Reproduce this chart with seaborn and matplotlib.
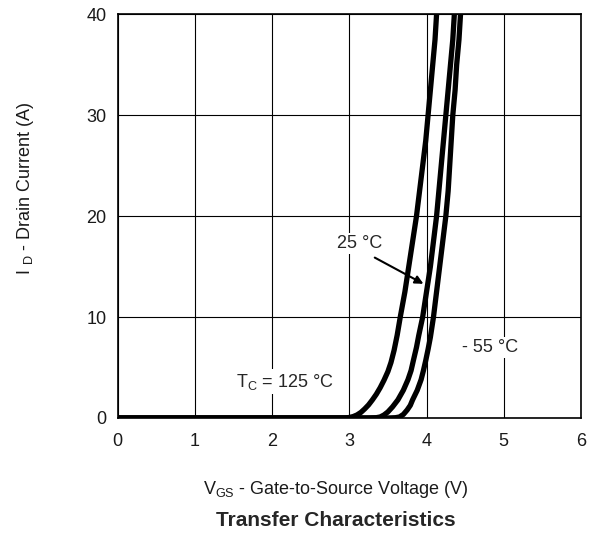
import numpy as np
import pandas as pd
import matplotlib
matplotlib.use("Agg")
import matplotlib.pyplot as plt
import seaborn as sns

# Data (V_GS in volts, I_D in amperes)
v_125 = [0.0, 2.8, 2.95, 3.0, 3.05, 3.1, 3.15, 3.2, 3.25, 3.3, 3.35, 3.4, 3.45, 3.5, 3.54, 3.58,
         3.62, 3.66, 3.72, 3.77, 3.82, 3.87, 3.91, 3.95, 3.99, 4.02, 4.05, 4.08, 4.11, 4.13, 4.16]
i_125 = [0.0, 0.0, 0.0, 0.05, 0.14, 0.3, 0.55, 0.9, 1.3, 1.8, 2.35, 3.0, 3.75, 4.6, 5.5, 6.7,
         8.2, 10.0, 12.5, 15.0, 17.5, 20.0, 22.5, 25.0, 27.5, 30.0, 32.5, 35.0, 37.5, 40.0, 43.0]
v_25 = [0.0, 3.25, 3.35, 3.4, 3.45, 3.5, 3.56, 3.63, 3.7, 3.76, 3.8, 3.83, 3.87, 3.90, 3.95,
        4.0, 4.05, 4.09, 4.13, 4.16, 4.19, 4.22, 4.25, 4.28, 4.31, 4.34, 4.36, 4.39]
i_25 = [0.0, 0.0, 0.03, 0.1, 0.3, 0.6, 1.1, 1.8, 2.75, 3.8, 4.7, 5.7, 7.0, 8.2, 10.0,
        12.5, 15.0, 17.5, 20.0, 22.5, 25.0, 27.5, 30.0, 32.5, 35.0, 37.5, 40.0, 43.0]
v_m55 = [0.0, 3.5, 3.6, 3.65, 3.7, 3.75, 3.79, 3.82, 3.88, 3.93, 3.96, 3.99, 4.02, 4.05, 4.09,
         4.13, 4.17, 4.21, 4.25, 4.28, 4.30, 4.32, 4.34, 4.37, 4.39, 4.42, 4.44, 4.47]
i_m55 = [0.0, 0.0, 0.03, 0.1, 0.35, 0.8, 1.25, 1.8, 2.75, 3.8, 4.7, 5.7, 6.8, 8.0, 10.0,
         12.5, 15.0, 17.5, 20.0, 22.5, 25.0, 27.5, 30.0, 32.5, 35.0, 37.5, 40.0, 43.0]

x_ticks = [0, 1, 2, 3, 4, 5, 6]
y_ticks = [0, 10, 20, 30, 40]

df = pd.concat([
    pd.DataFrame({"V": v_125, "I": i_125, "T": "125"}),
    pd.DataFrame({"V": v_25, "I": i_25, "T": "25"}),
    pd.DataFrame({"V": v_m55, "I": i_m55, "T": "-55"}),
], ignore_index=True)

sns.set_style("white")
plt.rcParams["font.family"] = ["Liberation Sans", "DejaVu Sans"]
plt.rcParams["mathtext.fontset"] = "custom"
plt.rcParams["mathtext.rm"] = "Liberation Sans"
plt.rcParams["mathtext.it"] = "Liberation Sans:italic"
plt.rcParams["mathtext.bf"] = "Liberation Sans:bold"

fig = plt.figure(figsize=(5.95, 5.33), dpi=100)
ax = fig.add_axes([0.1975, 0.2158, 0.7790, 0.7570])

sns.lineplot(data=df, x="V", y="I", hue="T", units="T", estimator=None, sort=False,
             palette=["black", "black", "black"], linewidth=3.8, legend=False,
             ax=ax, zorder=3)
for ln in ax.lines:
    ln.set_solid_joinstyle("round")
    ln.set_solid_capstyle("round")

fs = 13
ax.set_xlim(0, 6)
ax.set_ylim(0, 40)
ax.set_xticks(x_ticks)
ax.set_yticks(y_ticks)
ax.set_xticklabels([str(t) for t in x_ticks])
ax.set_yticklabels([str(t) for t in y_ticks])
ax.tick_params(axis="both", length=0, labelsize=fs, colors="#1a1a1a")
ax.tick_params(axis="x", pad=11)
ax.tick_params(axis="y", pad=8)
ax.grid(True, color="black", linewidth=0.8)
ax.set_axisbelow(True)
for s in ax.spines.values():
    s.set_visible(True)
    s.set_color("black")
    s.set_linewidth(1.2)
ax.set_xlabel("")
ax.set_ylabel("")

bbox = dict(facecolor="white", edgecolor="none", pad=1.5)
ax.text(3.14, 17.3, "25 °C", fontsize=fs, ha="center", va="center", bbox=bbox, zorder=4)
ax.annotate("", xy=(3.96, 13.3), xytext=(3.33, 15.9),
            arrowprops=dict(arrowstyle="-|>", color="black", lw=1.5,
                            mutation_scale=12, shrinkA=0, shrinkB=0), zorder=5)
ax.text(4.46, 7.0, "- 55 °C", fontsize=fs, ha="left", va="center", bbox=bbox, zorder=4)
ax.text(1.53, 3.6, r"T$\mathregular{_C}$ = 125 °C", fontsize=fs, ha="left",
        va="center", bbox=bbox, zorder=4)

fig.text(336 / 595, 1 - 490 / 533, r"V$\mathregular{_{GS}}$ - Gate-to-Source Voltage (V)",
         fontsize=fs, ha="center", va="center", color="#1a1a1a")
fig.text(336 / 595, 1 - 521 / 533, "Transfer Characteristics", fontsize=15,
         fontweight="bold", ha="center", va="center")
fig.text(25 / 595, 1 - 188 / 533, r"I $\mathregular{_D}$ - Drain Current (A)", fontsize=fs,
         rotation=90, ha="center", va="center", color="#1a1a1a")

fig.savefig("out.png", dpi=100, facecolor="white")
